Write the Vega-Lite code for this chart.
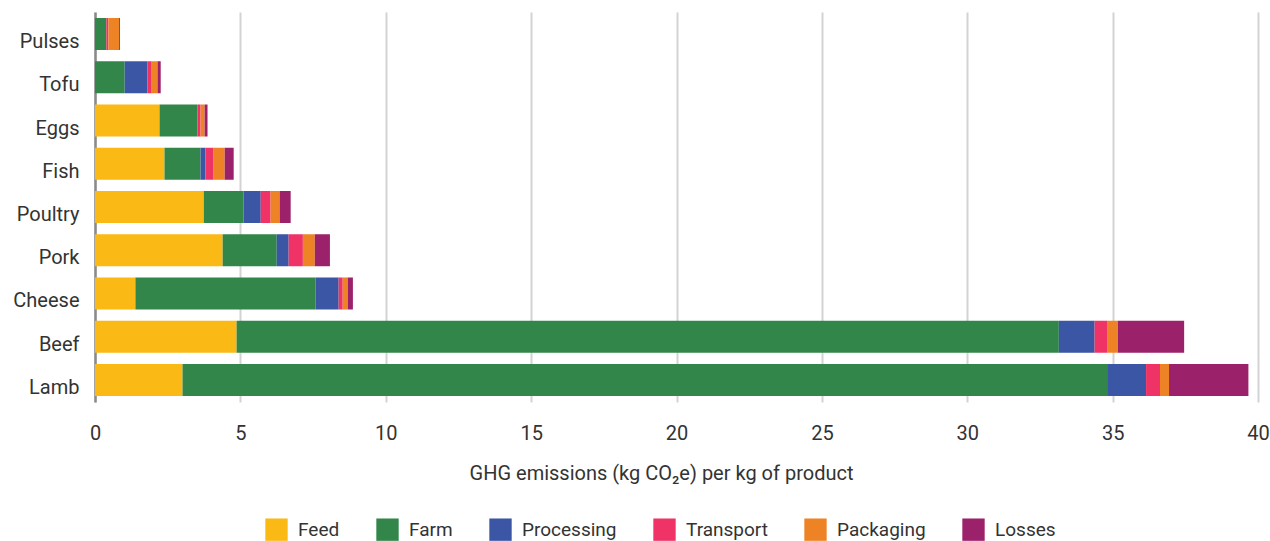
{
  "$schema": "https://vega.github.io/schema/vega-lite/v6.json",
  "width": 1163,
  "height": 390,
  "autosize": {"type": "none"},
  "padding": {"left": 95, "top": 12, "right": 12, "bottom": 139},
  "background": "white",
  "config": {
    "font": "Roboto",
    "view": {"stroke": null},
    "axis": {"labelColor": "#333333", "titleColor": "#333333", "labelFontSize": 20, "titleFontSize": 20, "titleFontWeight": "normal"}
  },
  "data": {
    "values": [
      {"food": "Pulses", "stage": "Farm", "value": 0.39},
      {"food": "Pulses", "stage": "Transport", "value": 0.07},
      {"food": "Pulses", "stage": "Packaging", "value": 0.37},
      {"food": "Pulses", "stage": "Losses", "value": 0.03},
      {"food": "Tofu", "stage": "Farm", "value": 1.02},
      {"food": "Tofu", "stage": "Processing", "value": 0.78},
      {"food": "Tofu", "stage": "Transport", "value": 0.15},
      {"food": "Tofu", "stage": "Packaging", "value": 0.2},
      {"food": "Tofu", "stage": "Losses", "value": 0.11},
      {"food": "Eggs", "stage": "Feed", "value": 2.22},
      {"food": "Eggs", "stage": "Farm", "value": 1.3},
      {"food": "Eggs", "stage": "Transport", "value": 0.11},
      {"food": "Eggs", "stage": "Packaging", "value": 0.14},
      {"food": "Eggs", "stage": "Losses", "value": 0.1},
      {"food": "Fish", "stage": "Feed", "value": 2.39},
      {"food": "Fish", "stage": "Farm", "value": 1.24},
      {"food": "Fish", "stage": "Processing", "value": 0.17},
      {"food": "Fish", "stage": "Transport", "value": 0.28},
      {"food": "Fish", "stage": "Packaging", "value": 0.38},
      {"food": "Fish", "stage": "Losses", "value": 0.31},
      {"food": "Poultry", "stage": "Feed", "value": 3.74},
      {"food": "Poultry", "stage": "Farm", "value": 1.37},
      {"food": "Poultry", "stage": "Processing", "value": 0.59},
      {"food": "Poultry", "stage": "Transport", "value": 0.34},
      {"food": "Poultry", "stage": "Packaging", "value": 0.31},
      {"food": "Poultry", "stage": "Losses", "value": 0.38},
      {"food": "Pork", "stage": "Feed", "value": 4.39},
      {"food": "Pork", "stage": "Farm", "value": 1.86},
      {"food": "Pork", "stage": "Processing", "value": 0.41},
      {"food": "Pork", "stage": "Transport", "value": 0.49},
      {"food": "Pork", "stage": "Packaging", "value": 0.41},
      {"food": "Pork", "stage": "Losses", "value": 0.52},
      {"food": "Cheese", "stage": "Feed", "value": 1.39},
      {"food": "Cheese", "stage": "Farm", "value": 6.2},
      {"food": "Cheese", "stage": "Processing", "value": 0.79},
      {"food": "Cheese", "stage": "Transport", "value": 0.14},
      {"food": "Cheese", "stage": "Packaging", "value": 0.17},
      {"food": "Cheese", "stage": "Losses", "value": 0.18},
      {"food": "Beef", "stage": "Feed", "value": 4.87},
      {"food": "Beef", "stage": "Farm", "value": 28.28},
      {"food": "Beef", "stage": "Processing", "value": 1.23},
      {"food": "Beef", "stage": "Transport", "value": 0.45},
      {"food": "Beef", "stage": "Packaging", "value": 0.35},
      {"food": "Beef", "stage": "Losses", "value": 2.28},
      {"food": "Lamb", "stage": "Feed", "value": 3.01},
      {"food": "Lamb", "stage": "Farm", "value": 31.8},
      {"food": "Lamb", "stage": "Processing", "value": 1.34},
      {"food": "Lamb", "stage": "Transport", "value": 0.48},
      {"food": "Lamb", "stage": "Packaging", "value": 0.31},
      {"food": "Lamb", "stage": "Losses", "value": 2.73}
    ]
  },
  "transform": [
    {"calculate": "indexof(['Feed', 'Farm', 'Processing', 'Transport', 'Packaging', 'Losses'], datum.stage)", "as": "stage_rank"}
  ],
  "mark": {"type": "bar"},
  "encoding": {
    "y": {
      "field": "food",
      "type": "nominal",
      "sort": ["Pulses", "Tofu", "Eggs", "Fish", "Poultry", "Pork", "Cheese", "Beef", "Lamb"],
      "scale": {"paddingInner": 0.26, "paddingOuter": 0.139},
      "axis": {
        "title": null,
        "ticks": false,
        "domainColor": "#8a8a8a",
        "domainWidth": 2.5,
        "labelPadding": 16,
        "labelOffset": 8,
        "grid": false
      }
    },
    "x": {
      "field": "value",
      "type": "quantitative",
      "stack": "zero",
      "scale": {"domain": [0, 40], "nice": false},
      "axis": {
        "title": "GHG emissions (kg CO₂e) per kg of product",
        "values": [0, 5, 10, 15, 20, 25, 30, 35, 40],
        "domain": false,
        "ticks": false,
        "grid": true,
        "gridColor": "#d3d3d3",
        "gridWidth": 2,
        "labelFlush": false,
        "labelPadding": 21,
        "titlePadding": 20,
        "titleX": 566
      }
    },
    "color": {
      "field": "stage",
      "type": "nominal",
      "scale": {
        "domain": ["Feed", "Farm", "Processing", "Transport", "Packaging", "Losses"],
        "range": ["#fbb915", "#328649", "#3a56a4", "#ef3366", "#ee8326", "#9c216b"]
      },
      "legend": {
        "title": null,
        "orient": "none",
        "direction": "horizontal",
        "legendX": 170,
        "legendY": 506,
        "symbolType": "square",
        "symbolSize": 500,
        "symbolStrokeWidth": 0,
        "symbolOpacity": 1,
        "labelFontSize": 19,
        "labelColor": "#333333",
        "labelOffset": 10,
        "columnPadding": 36
      }
    },
    "order": {"field": "stage_rank", "type": "quantitative", "sort": "ascending"}
  }
}
